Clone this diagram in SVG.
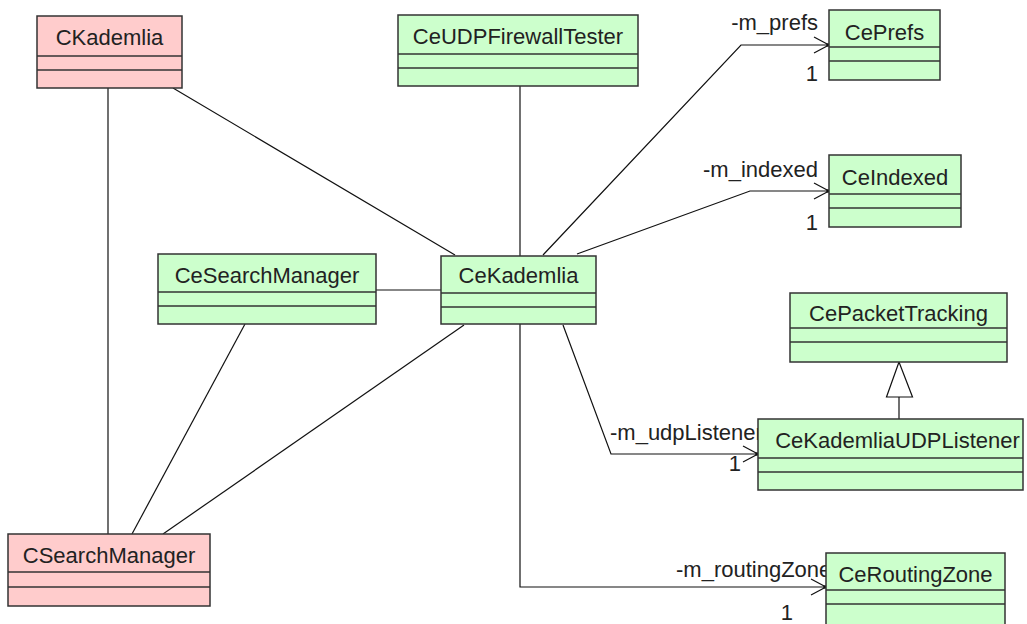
<svg xmlns="http://www.w3.org/2000/svg" width="1027" height="624" viewBox="0 0 1027 624">
<style>
.box{stroke:#333;stroke-width:1.5}
.pink{fill:#ffcccc}
.green{fill:#ccffcc}
.div{stroke:#333;stroke-width:1.5}
.name{font-family:"Liberation Sans",Arial,sans-serif;font-size:22px;fill:#222;text-anchor:middle}
.lbl{font-family:"Liberation Sans",Arial,sans-serif;font-size:22px;fill:#222}
.end{text-anchor:end}
.ln{fill:none;stroke:#111;stroke-width:1.2}
</style>
<defs>
<marker id="open" markerWidth="20" markerHeight="20" refX="16" refY="9" orient="auto" markerUnits="userSpaceOnUse">
<path d="M1,1 L16,9 L1,17" fill="none" stroke="#111" stroke-width="1.2"/>
<circle cx="15" cy="9" r="1.8" fill="#111"/>
</marker>
</defs>
<rect width="1027" height="624" fill="#fff"/>
<g id="connectors">
<line class="ln" x1="173" y1="88" x2="455" y2="255"/>
<line class="ln" x1="108" y1="88" x2="108" y2="534"/>
<line class="ln" x1="520" y1="86" x2="520" y2="256"/>
<polyline class="ln" points="543,255 741,45 829,45" marker-end="url(#open)"/>
<polyline class="ln" points="577,254 750,191 829,191" marker-end="url(#open)"/>
<line class="ln" x1="376" y1="290" x2="441" y2="290"/>
<line class="ln" x1="245" y1="324" x2="132" y2="534"/>
<line class="ln" x1="464" y1="325" x2="163" y2="534"/>
<polyline class="ln" points="563,325 611,454 758,454" marker-end="url(#open)"/>
<polyline class="ln" points="520,324 520,587 826,587" marker-end="url(#open)"/>
<line class="ln" x1="899" y1="419" x2="899" y2="397"/>
<polygon points="899,362 886.5,397 912.5,397" fill="#fff" stroke="#111" stroke-width="1.2"/>
<text class="lbl end" x="818" y="30">-m_prefs</text>
<text class="lbl end" x="818" y="81">1</text>
<text class="lbl end" x="818" y="177">-m_indexed</text>
<text class="lbl end" x="818" y="230">1</text>
<text class="lbl" x="610" y="440">-m_udpListener</text>
<text class="lbl end" x="741" y="471">1</text>
<text class="lbl" x="676" y="577">-m_routingZone</text>
<text class="lbl end" x="793" y="620">1</text>
</g>
<g id="CKademlia">
<rect class="box pink" x="37" y="16" width="145" height="72"/>
<line class="div" x1="37" y1="56" x2="182" y2="56"/>
<line class="div" x1="37" y1="70" x2="182" y2="70"/>
<text class="name" x="109.5" y="45">CKademlia</text>
</g>
<g id="CeUDPFirewallTester">
<rect class="box green" x="398" y="15" width="240" height="71"/>
<line class="div" x1="398" y1="54" x2="638" y2="54"/>
<line class="div" x1="398" y1="68" x2="638" y2="68"/>
<text class="name" x="518" y="44">CeUDPFirewallTester</text>
</g>
<g id="CePrefs">
<rect class="box green" x="829" y="10" width="111" height="70"/>
<line class="div" x1="829" y1="47" x2="940" y2="47"/>
<line class="div" x1="829" y1="61" x2="940" y2="61"/>
<text class="name" x="884.5" y="40">CePrefs</text>
</g>
<g id="CeIndexed">
<rect class="box green" x="829" y="155" width="132" height="72"/>
<line class="div" x1="829" y1="194" x2="961" y2="194"/>
<line class="div" x1="829" y1="208" x2="961" y2="208"/>
<text class="name" x="895" y="185">CeIndexed</text>
</g>
<g id="CeSearchManager">
<rect class="box green" x="158" y="254" width="218" height="70"/>
<line class="div" x1="158" y1="292" x2="376" y2="292"/>
<line class="div" x1="158" y1="306" x2="376" y2="306"/>
<text class="name" x="267" y="283">CeSearchManager</text>
</g>
<g id="CeKademlia">
<rect class="box green" x="441" y="256" width="155" height="68"/>
<line class="div" x1="441" y1="293" x2="596" y2="293"/>
<line class="div" x1="441" y1="307" x2="596" y2="307"/>
<text class="name" x="518.5" y="283">CeKademlia</text>
</g>
<g id="CePacketTracking">
<rect class="box green" x="790" y="293" width="217" height="69"/>
<line class="div" x1="790" y1="328" x2="1007" y2="328"/>
<line class="div" x1="790" y1="342" x2="1007" y2="342"/>
<text class="name" x="898.5" y="321">CePacketTracking</text>
</g>
<g id="CeKademliaUDPListener">
<rect class="box green" x="758" y="419" width="265" height="71"/>
<line class="div" x1="758" y1="458" x2="1023" y2="458"/>
<line class="div" x1="758" y1="472" x2="1023" y2="472"/>
<text class="name" x="897.5" y="448">CeKademliaUDPListener</text>
</g>
<g id="CSearchManager">
<rect class="box pink" x="8" y="534" width="202" height="72"/>
<line class="div" x1="8" y1="572" x2="210" y2="572"/>
<line class="div" x1="8" y1="587" x2="210" y2="587"/>
<text class="name" x="109" y="563">CSearchManager</text>
</g>
<g id="CeRoutingZone">
<rect class="box green" x="826" y="553" width="179" height="72"/>
<line class="div" x1="826" y1="590" x2="1005" y2="590"/>
<line class="div" x1="826" y1="604" x2="1005" y2="604"/>
<text class="name" x="915.5" y="582">CeRoutingZone</text>
</g>
</svg>
